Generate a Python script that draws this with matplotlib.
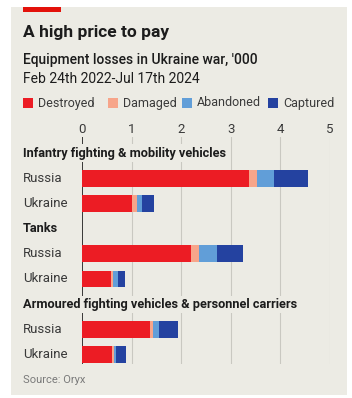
"""
Equipment losses in the Ukraine war, stacked horizontal bars by loss type.
"""

import numpy as np
import matplotlib
matplotlib.use("Agg")
import matplotlib.pyplot as plt
from matplotlib.patches import Rectangle

W, H = 352, 398

groups = ["Infantry fighting & mobility vehicles", "Tanks",
          "Armoured fighting vehicles & personnel carriers"]
countries = ["Russia", "Ukraine"]
loss_types = ["Destroyed", "Damaged", "Abandoned", "Captured"]

# '000, per group: [Russia, Ukraine]
destroyed = [[3.36, 1.01], [2.19, 0.58], [1.38, 0.60]]
damaged   = [[0.16, 0.09], [0.17, 0.05], [0.05, 0.04]]
abandoned = [[0.36, 0.10], [0.36, 0.10], [0.13, 0.05]]
captured  = [[0.67, 0.25], [0.52, 0.14], [0.37, 0.19]]

colors = ["#ec1c24", "#f7a58a", "#619ed8", "#2442a0"]
BG = "#ecebe4"
TXT = "#1c1c1c"
LBL = "#3a3a3a"

plt.rcParams["font.family"] = ["Roboto", "DejaVu Sans"]


def fx(x):
    return x / W


def fy(y):
    return 1 - y / H


fig = plt.figure(figsize=(W / 100, H / 100), dpi=100)
fig.patch.set_facecolor("white")
fig.patches.append(Rectangle((fx(11), fy(395)), fx(336), 388 / H,
                             transform=fig.transFigure, facecolor=BG,
                             edgecolor="none", zorder=-2))
fig.patches.append(Rectangle((fx(23), fy(12)), fx(38), 5 / H,
                             transform=fig.transFigure, facecolor="#e3120b",
                             edgecolor="none", zorder=-1))

fig.text(fx(23), fy(33), "A high price to pay", fontsize=12.5, fontweight="bold",
         color=TXT, va="center", ha="left")
fig.text(fx(23), fy(60), "Equipment losses in Ukraine war, '000", fontsize=10,
         fontweight="medium", color=TXT, va="center", ha="left")
fig.text(fx(23), fy(79), "Feb 24th 2022-Jul 17th 2024", fontsize=10,
         color=TXT, va="center", ha="left")

# legend
leg_x = [23, 108, 182, 268]
for lx, name, c in zip(leg_x, loss_types, colors):
    fig.patches.append(Rectangle((fx(lx), fy(108)), fx(10), 10 / H,
                                 transform=fig.transFigure, facecolor=c,
                                 edgecolor="none", zorder=-1))
    fig.text(fx(lx + 15), fy(103), name, fontsize=9, color=LBL,
             va="center", ha="left")

# axes: x 0..5 spans px 82..330, rows spaced ~25.2 px
row_h = 25.2
y_top, y_bot = 137, 364
ax = fig.add_axes([fx(82), fy(y_bot), (330 - 82) / W, (y_bot - y_top) / H])
ax.set_facecolor("none")
ax.set_xlim(0, 5)
ax.set_ylim((y_bot - 153) / row_h, (y_top - 153) / row_h)

for x in range(1, 6):
    ax.axvline(x, color="#c9c8c1", lw=0.8, zorder=1)
ax.axvline(0, color="#1a1a1a", lw=1.2, zorder=1)

ax.xaxis.tick_top()
ax.set_xticks(range(6))
ax.tick_params(axis="x", length=0, pad=0.8, labelsize=9.5, labelcolor=LBL)
ax.set_yticks([])
for s in ax.spines.values():
    s.set_visible(False)

for gi, g in enumerate(groups):
    label_row = gi * 3
    ax.text(-59 / 49.6, label_row, g, fontsize=9.2, fontweight="bold",
            color=TXT, va="center", ha="left", zorder=4,
            bbox=dict(facecolor=BG, edgecolor="none", pad=1.5))
    for ci, cname in enumerate(countries):
        row = label_row + 1 + ci
        vals = [destroyed[gi][ci], damaged[gi][ci],
                abandoned[gi][ci], captured[gi][ci]]
        left = 0.0
        for v, c in zip(vals, colors):
            ax.barh(row, v, left=left, height=0.67, color=c, zorder=3,
                    edgecolor="none")
            left += v
        ax.text(-59 / 49.6, row, cname, fontsize=9.5, color=LBL,
                va="center", ha="left")

fig.text(fx(23), fy(380), "Source: Oryx", fontsize=8, color="#7a7a7a",
         va="center", ha="left")

fig.savefig("out.png", dpi=100, facecolor="white")
